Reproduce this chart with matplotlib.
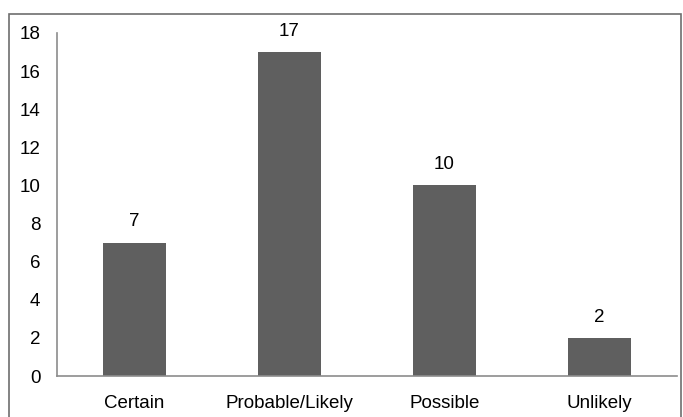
import matplotlib.pyplot as plt
from matplotlib.patches import Rectangle

categories = ['Certain', 'Probable/Likely', 'Possible', 'Unlikely']
counts = [7, 17, 10, 2]
yticks = list(range(0, 19, 2))

plt.rcParams['font.family'] = ['Liberation Sans', 'DejaVu Sans']

fig = plt.figure(figsize=(6.83, 4.17), dpi=100)
ax = fig.add_axes([0.0835, 0.0983, 0.9075, 0.8227])

x = range(len(categories))
bars = ax.bar(x, counts, width=0.41, color='#5f5f5f')
for b, v in zip(bars, counts):
    ax.text(b.get_x() + b.get_width() / 2, v + 0.65, str(v),
            ha='center', va='bottom', fontsize=13.5)

ax.set_xlim(-0.5, len(categories) - 0.5)
ax.set_ylim(0, 18)
ax.set_yticks(yticks)
ax.set_xticks(list(x))
ax.set_xticklabels(categories)
ax.tick_params(axis='both', length=0, labelsize=13.5)
ax.tick_params(axis='y', pad=12)
ax.tick_params(axis='x', pad=14)

for s in ['top', 'right']:
    ax.spines[s].set_visible(False)
for s in ['left', 'bottom']:
    ax.spines[s].set_color('#8c8c8c')
    ax.spines[s].set_linewidth(1.2)

# outer chart border
fig.patches.append(Rectangle((9 / 683, -0.02), (681 - 9) / 683, 1 - 14 / 417 + 0.02,
                             transform=fig.transFigure, fill=False,
                             edgecolor='#6e6e6e', linewidth=1.2))

fig.savefig('out.png', dpi=100)
